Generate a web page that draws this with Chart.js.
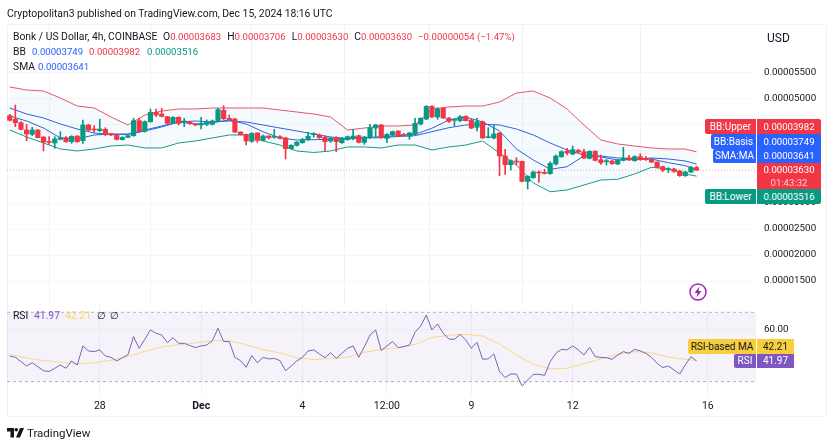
<!DOCTYPE html>
<html>
<head>
<meta charset="utf-8">
<title>Bonk / US Dollar</title>
<script src="https://cdn.jsdelivr.net/npm/chart.js@4"></script>
<style>
  html, body { margin: 0; padding: 0; background: #fff; }
  body { width: 835px; height: 443px; position: relative; overflow: hidden; font-family: Roboto, sans-serif; font-size: 10.35px; color: #131722; }
  canvas { position: absolute; left: 0; top: 0; }
  .frame { position: absolute; left: 7px; top: 24px; width: 820px; height: 393px; border: 1px solid #f0f1f3; border-radius: 3px; box-sizing: border-box; }
  .t { position: absolute; white-space: nowrap; line-height: 14px; }
  .pill { position: absolute; color: #fff; text-align: center; font-size: 10px; white-space: nowrap; }
  .num { font-size: 9.6px; }
  .gap { margin-right: 6px; }
  .red { color: #f23645; } .blue { color: #2962ff; } .green { color: #089981; }
</style>
</head>
<body>
<div class="frame"></div>
<canvas id="priceChart" width="835" height="443"></canvas>
<canvas id="rsiChart" width="835" height="443"></canvas>

<div class="t" style="left:7px;top:7px">Cryptopolitan3 published on TradingView.com, Dec 15, 2024 18:16 UTC</div>
<div class="t" style="left:13px;top:30px">Bonk / US Dollar, 4h, COINBASE</div>
<div class="t" style="left:163px;top:30px">O<span class="red num gap">0.00003683</span>H<span class="red num gap">0.00003706</span>L<span class="red num gap">0.00003630</span>C<span class="red num gap">0.00003630</span><span class="red num">−0.00000054 (−1.47%)</span></div>
<div class="t" style="left:13px;top:45px">BB</div>
<div class="t blue num" style="left:32px;top:45px">0.00003749</div>
<div class="t red num" style="left:89px;top:45px">0.00003982</div>
<div class="t green num" style="left:147px;top:45px">0.00003516</div>
<div class="t" style="left:13px;top:60px">SMA</div>
<div class="t blue num" style="left:38px;top:60px">0.00003641</div>

<div class="t" style="left:767px;top:31px;font-size:12px">USD</div>

<div class="pill" style="left:705px;top:119px;width:51px;height:15px;line-height:15px;background:#f23645;border-radius:2px 0 0 2px">BB:Upper</div>
<div class="pill num" style="left:757px;top:119px;width:64px;height:15px;line-height:15px;background:#f23645;border-radius:0 2px 0 0">0.00003982</div>
<div class="pill" style="left:711px;top:134px;width:45px;height:15px;line-height:15px;background:#2962ff;border-radius:2px 0 0 2px">BB:Basis</div>
<div class="pill num" style="left:757px;top:134px;width:64px;height:15px;line-height:15px;background:#2962ff">0.00003749</div>
<div class="pill" style="left:713px;top:149px;width:43px;height:14px;line-height:14px;background:#2962ff;border-radius:2px 0 0 2px">SMA:MA</div>
<div class="pill num" style="left:757px;top:149px;width:64px;height:14px;line-height:14px;background:#2962ff">0.00003641</div>
<div class="pill num" style="left:757px;top:163px;width:64px;height:26px;line-height:13px;background:#f23645">0.00003630<br><span style="opacity:.75">01:43:32</span></div>
<div class="pill" style="left:705px;top:189px;width:51px;height:15px;line-height:15px;background:#089981;border-radius:2px 0 0 2px">BB:Lower</div>
<div class="pill num" style="left:757px;top:189px;width:64px;height:15px;line-height:15px;background:#089981;border-radius:0 0 2px 0">0.00003516</div>

<svg style="position:absolute;left:688px;top:282px" width="20" height="20" viewBox="0 0 20 20">
  <circle cx="10" cy="10" r="8" fill="#fff" stroke="#9c27b0" stroke-width="1.5"/>
  <path d="M11.5 4.5 L6.5 11 H9.5 L8.5 15.5 L13.5 9 H10.5 Z" fill="#9c27b0"/>
</svg>

<div class="t" style="left:13px;top:309px">RSI</div>
<div class="t" style="left:34px;top:309px;color:#7e57c2">41.97</div>
<div class="t" style="left:65px;top:309px;color:#f5d76e">42.21</div>
<div class="t" style="left:97px;top:309px">∅</div>
<div class="t" style="left:110px;top:309px">∅</div>

<div class="pill" style="left:688px;top:339px;width:68px;height:15px;line-height:15px;background:#f9ce3c;color:#131722;border-radius:2px 0 0 2px">RSI-based MA</div>
<div class="pill" style="left:757px;top:339px;width:37px;height:15px;line-height:15px;background:#f9ce3c;color:#131722">42.21</div>
<div class="pill" style="left:734px;top:354px;width:22px;height:14px;line-height:14px;background:#7e57c2;border-radius:2px 0 0 2px">RSI</div>
<div class="pill" style="left:757px;top:354px;width:37px;height:14px;line-height:14px;background:#7e57c2">41.97</div>

<svg style="position:absolute;left:7px;top:428px" width="17" height="10" viewBox="0 0 17 10">
  <path d="M0 0 H7 V9.5 H3.5 V3.5 H0 Z" fill="#131722"/>
  <circle cx="9.3" cy="1.8" r="1.8" fill="#131722"/>
  <path d="M13 0 H17 L13 9.5 H9 Z" fill="#131722"/>
</svg>
<div class="t" style="left:27px;top:426px;font-size:11.5px">TradingView</div>

<script>
// prices are in units of 0.00000001 USD
const opens = [
  4679,4609,4545,4404,4320,4404,4269,4179,4154,4224,
  4256,4179,4288,4199,4500,4423,4391,4416,4333,4308,
  4218,4263,4295,4583,4378,4564,4743,4711,4660,4545,
  4647,4557,4557,4519,4500,4513,4513,4583,4782,4628,
  4615,4365,4320,4186,4346,4205,4288,4263,4275,4250,
  4045,4109,4160,4218,4314,4308,4263,4192,4263,4160,
  4218,4256,4295,4166,4263,4442,4500,4243,4308,4384,
  4308,4282,4327,4519,4615,4859,4654,4820,4634,4590,
  4583,4666,4596,4455,4564,4256,4250,4346,3904,3737,
  3801,3801,3416,3487,3596,3589,3564,3750,3891,3993,
  3942,4012,3987,3859,3993,3833,3794,3807,3750,3820,
  3871,3814,3891,3859,3839,3788,3698,3641,3653,3615,
  3525,3596,3683
];
const highs = [
  4705,4884,4564,4513,4455,4410,4275,4275,4275,4372,
  4275,4295,4295,4596,4513,4487,4609,4448,4340,4320,
  4275,4308,4628,4628,4577,4807,4807,4820,4666,4660,
  4660,4628,4564,4525,4647,4596,4596,4820,4872,4692,
  4628,4372,4327,4352,4352,4308,4295,4416,4295,4263,
  4122,4179,4243,4359,4352,4327,4295,4263,4275,4256,
  4288,4416,4308,4282,4513,4513,4513,4333,4384,4391,
  4340,4359,4628,4641,4872,4872,4833,4833,4641,4628,
  4679,4679,4609,4628,4577,4448,4500,4352,4032,3827,
  3872,3807,3525,3615,3615,3647,3794,3923,4000,4051,
  4096,4032,4032,4006,4006,3923,3839,3820,3839,4070,
  3916,3910,3948,3891,3852,3794,3711,3679,3666,3628,
  3609,3705,3706
];
const lows = [
  4577,4468,4404,4199,4295,4250,4000,4128,4051,4211,
  4166,4147,4166,4147,4384,4359,4372,4295,4295,4211,
  4211,4256,4282,4359,4365,4551,4660,4654,4519,4532,
  4500,4468,4513,4487,4423,4487,4500,4564,4602,4590,
  4352,4308,4115,4166,4166,4192,4231,4243,4231,3846,
  4038,4096,4147,4205,4269,4243,4000,4166,3987,4147,
  4205,4211,4154,4128,4243,4275,4243,4160,4295,4275,
  4288,4224,4308,4500,4602,4641,4609,4628,4551,4487,
  4564,4577,4429,4384,4243,4250,4231,3525,3551,3635,
  3731,3404,3269,3474,3397,3557,3551,3730,3878,3923,
  3929,3967,3852,3846,3807,3743,3730,3743,3737,3807,
  3814,3801,3820,3820,3775,3673,3602,3583,3589,3512,
  3512,3583,3630
];
const closes = [
  4590,4545,4416,4327,4404,4256,4173,4166,4231,4256,
  4179,4282,4179,4500,4404,4404,4423,4320,4308,4224,
  4263,4295,4583,4384,4564,4743,4692,4666,4532,4647,
  4532,4577,4525,4500,4519,4551,4577,4795,4622,4602,
  4365,4314,4192,4340,4205,4288,4256,4269,4243,4045,
  4109,4173,4218,4282,4320,4256,4179,4250,4179,4243,
  4275,4288,4166,4269,4448,4500,4256,4320,4372,4288,
  4301,4346,4532,4628,4859,4654,4807,4634,4570,4596,
  4660,4583,4442,4564,4250,4263,4327,3904,3737,3814,
  3788,3416,3513,3596,3577,3570,3762,3903,3987,3961,
  4025,3980,3865,3993,3820,3775,3801,3756,3827,3865,
  3827,3891,3833,3833,3788,3685,3634,3647,3609,3525,
  3596,3685,3630
];

// the overlay lines were read every third candle
const lineIdx = [0,3,6,9,12,15,18,21,24,27,30,33,36,39,42,45,48,51,54,57,60,63,66,69,72,75,78,81,84,87,90,93,96,99,102,105,108,111,114,117,120,122];
const bbUpper = [5231,5173,5154,5019,4865,4827,4654,4500,4692,4769,4808,4808,4827,4827,4827,4827,4788,4750,4712,4654,4404,4442,4481,4481,4500,4808,4846,4865,4865,4942,5115,5154,5019,4808,4500,4212,4135,4096,4058,4039,4039,3982];
const bbBasis = [4827,4712,4635,4519,4423,4346,4318,4327,4404,4481,4558,4577,4558,4577,4558,4500,4442,4385,4327,4269,4241,4250,4256,4279,4294,4371,4448,4500,4514,4500,4423,4308,4154,4019,3923,3904,3866,3846,3866,3846,3808,3749];
const bbLower = [4404,4269,4154,4039,4000,4039,4096,4115,4058,4058,4154,4192,4250,4308,4308,4192,4115,4000,3971,4000,4077,4077,4058,4115,4115,4019,4077,4115,4192,3962,3731,3385,3217,3250,3346,3442,3456,3558,3687,3654,3558,3516];
const sma = [4673,4577,4442,4250,4231,4308,4327,4318,4385,4462,4558,4519,4545,4596,4519,4371,4250,4212,4218,4225,4231,4256,4275,4294,4321,4437,4596,4654,4558,4385,4039,3827,3648,3698,3904,3885,3827,3846,3846,3775,3718,3641];

const rsi = [
  44.8,44.0,41.5,39.0,40.9,38.6,36.3,35.8,37.7,39.6,
  37.7,41.9,39.6,50.6,47.7,47.3,48.3,44.8,44.0,41.9,
  43.8,45.4,56.0,49.2,54.4,59.8,57.9,56.9,52.5,55.4,
  52.1,52.1,50.8,49.6,50.6,51.1,53.6,60.8,53.1,53.1,
  44.0,42.1,38.3,45.0,40.9,44.0,43.1,43.4,42.1,36.3,
  39.0,41.9,44.0,47.7,48.3,46.0,43.8,46.7,43.4,46.3,
  49.2,50.6,44.0,50.2,56.9,59.8,47.9,50.6,53.1,49.6,
  50.2,51.1,58.5,62.1,68.4,59.8,63.3,57.9,54.6,54.4,
  57.3,54.0,49.2,52.7,42.9,43.1,46.0,35.8,32.3,34.4,
  34.4,27.5,30.9,34.2,34.2,33.6,41.5,46.3,48.6,48.3,
  50.6,48.3,45.4,49.8,44.4,44.0,43.8,42.9,45.4,47.3,
  46.3,48.6,47.7,46.3,44.0,40.6,38.1,39.0,36.7,34.4,
  39.6,44.4,41.97
];
const rsiMa = [45.6,43.6,42.1,41.3,40.2,40.9,42.3,44.4,47.5,50.0,51.3,52.3,53.6,53.6,51.3,48.4,46.5,43.8,42.7,43.4,44.0,46.9,48.6,49.6,51.5,55.4,56.7,57.3,56.3,51.7,45.4,40.0,37.3,37.7,40.4,43.1,45.8,47.3,46.5,44.2,42.9,42.21];
const rsiBands = [70, 30];

const xTickIdx = [16, 34, 52, 67, 82, 100, 124];
const xTickLabels = ['28', 'Dec', '4', '12:00', '9', '12', '16'];
const priceTicks = [1500, 2000, 2500, 3000, 3500, 4000, 4500, 5000, 5500];
const rsiTicks = [60];

const upColor = '#089981';
const downColor = '#f23645';
const fontName = 'Roboto, sans-serif';
const xMin = -0.48, xMax = 132.56;
const lastClose = closes[closes.length - 1];

const idx = closes.map((c, i) => i);
const candleColors = idx.map(i => closes[i] >= opens[i] ? upColor : downColor);

function sampled(values) {
  return lineIdx.map((x, i) => ({ x: x, y: values[i] }));
}

function overlay(label, values, color, extra) {
  return Object.assign({
    type: 'line', label: label, data: sampled(values), borderColor: color,
    borderWidth: 1, pointRadius: 0, fill: false, order: 5
  }, extra || {});
}

function xScale(showLabels) {
  return {
    type: 'linear', min: xMin, max: xMax, offset: false,
    border: { display: false },
    grid: { color: '#f1f2f4', drawTicks: false },
    afterBuildTicks: axis => { axis.ticks = xTickIdx.map(v => ({ value: v })); },
    ticks: {
      display: showLabels, autoSkip: false, maxRotation: 0, padding: 5, color: '#131722',
      font: ctx => ({ family: fontName, size: 10.5, weight: ctx.tick && ctx.tick.value === 34 ? 'bold' : 'normal' }),
      callback: v => xTickLabels[xTickIdx.indexOf(v)]
    },
    afterFit: axis => { axis.height = showLabels ? 22 : 0; }
  };
}

function yScale(min, max, tickValues, format) {
  return {
    position: 'right', min: min, max: max,
    border: { display: false },
    grid: { color: '#f6f7f8', drawTicks: false },
    afterBuildTicks: axis => { axis.ticks = tickValues.map(v => ({ value: v })); },
    ticks: { padding: 8, color: '#131722', font: { family: fontName, size: 9.8 }, callback: format },
    afterFit: axis => { axis.width = 71; }
  };
}

const priceChart = new Chart(document.getElementById('priceChart').getContext('2d'), {
  data: {
    datasets: [
      overlay('Last', [lastClose, lastClose], 'rgba(242,54,69,0.45)', {
        data: [{ x: xMin, y: lastClose }, { x: xMax, y: lastClose }],
        borderDash: [1, 2], order: 7
      }),
      overlay('BB upper', bbUpper, '#e5566a', { fill: '+1', backgroundColor: 'rgba(33,150,243,0.045)', order: 6 }),
      overlay('BB lower', bbLower, '#1c9a80', { order: 6 }),
      overlay('BB basis', bbBasis, '#2f63d8'),
      overlay('SMA', sma, '#2f63d8'),
      {
        type: 'bar', label: 'Wick', grouped: false, barThickness: 1, order: 2,
        data: idx.map(i => ({ x: i, y: [lows[i], highs[i]] })),
        backgroundColor: candleColors
      },
      {
        type: 'bar', label: 'Body', grouped: false, barThickness: 4.5, order: 1, minBarLength: 1,
        data: idx.map(i => ({ x: i, y: [opens[i], closes[i]] })),
        backgroundColor: candleColors
      }
    ]
  },
  options: {
    responsive: false,
    animation: false,
    layout: { padding: { left: 7, top: 24, right: 8, bottom: 139 } },
    plugins: { legend: { display: false }, tooltip: { enabled: false } },
    scales: {
      x: xScale(false),
      y: yScale(1058, 6442, priceTicks, v => (v / 1e8).toFixed(8))
    }
  }
});

const rsiChart = new Chart(document.getElementById('rsiChart').getContext('2d'), {
  type: 'line',
  data: {
    datasets: [
      {
        label: 'Upper band', data: [{ x: xMin, y: rsiBands[0] }, { x: xMax, y: rsiBands[0] }],
        borderColor: '#b5b8c2', borderWidth: 1, borderDash: [3, 3], pointRadius: 0,
        fill: '+1', backgroundColor: 'rgba(126,87,194,0.08)', order: 5
      },
      {
        label: 'Lower band', data: [{ x: xMin, y: rsiBands[1] }, { x: xMax, y: rsiBands[1] }],
        borderColor: '#b5b8c2', borderWidth: 1, borderDash: [3, 3], pointRadius: 0, fill: false, order: 5
      },
      overlay('RSI-based MA', rsiMa, '#f7d98a', { order: 2 }),
      {
        label: 'RSI', data: idx.map(i => ({ x: i, y: rsi[i] })),
        borderColor: '#7464b8', borderWidth: 1, pointRadius: 0, fill: false, order: 1
      }
    ]
  },
  options: {
    responsive: false,
    animation: false,
    layout: { padding: { left: 7, top: 304, right: 8, bottom: 26 } },
    plugins: { legend: { display: false }, tooltip: { enabled: false } },
    scales: {
      x: xScale(true),
      y: yScale(22.27, 74.8, rsiTicks, v => v.toFixed(2))
    }
  }
});
</script>
</body>
</html>
